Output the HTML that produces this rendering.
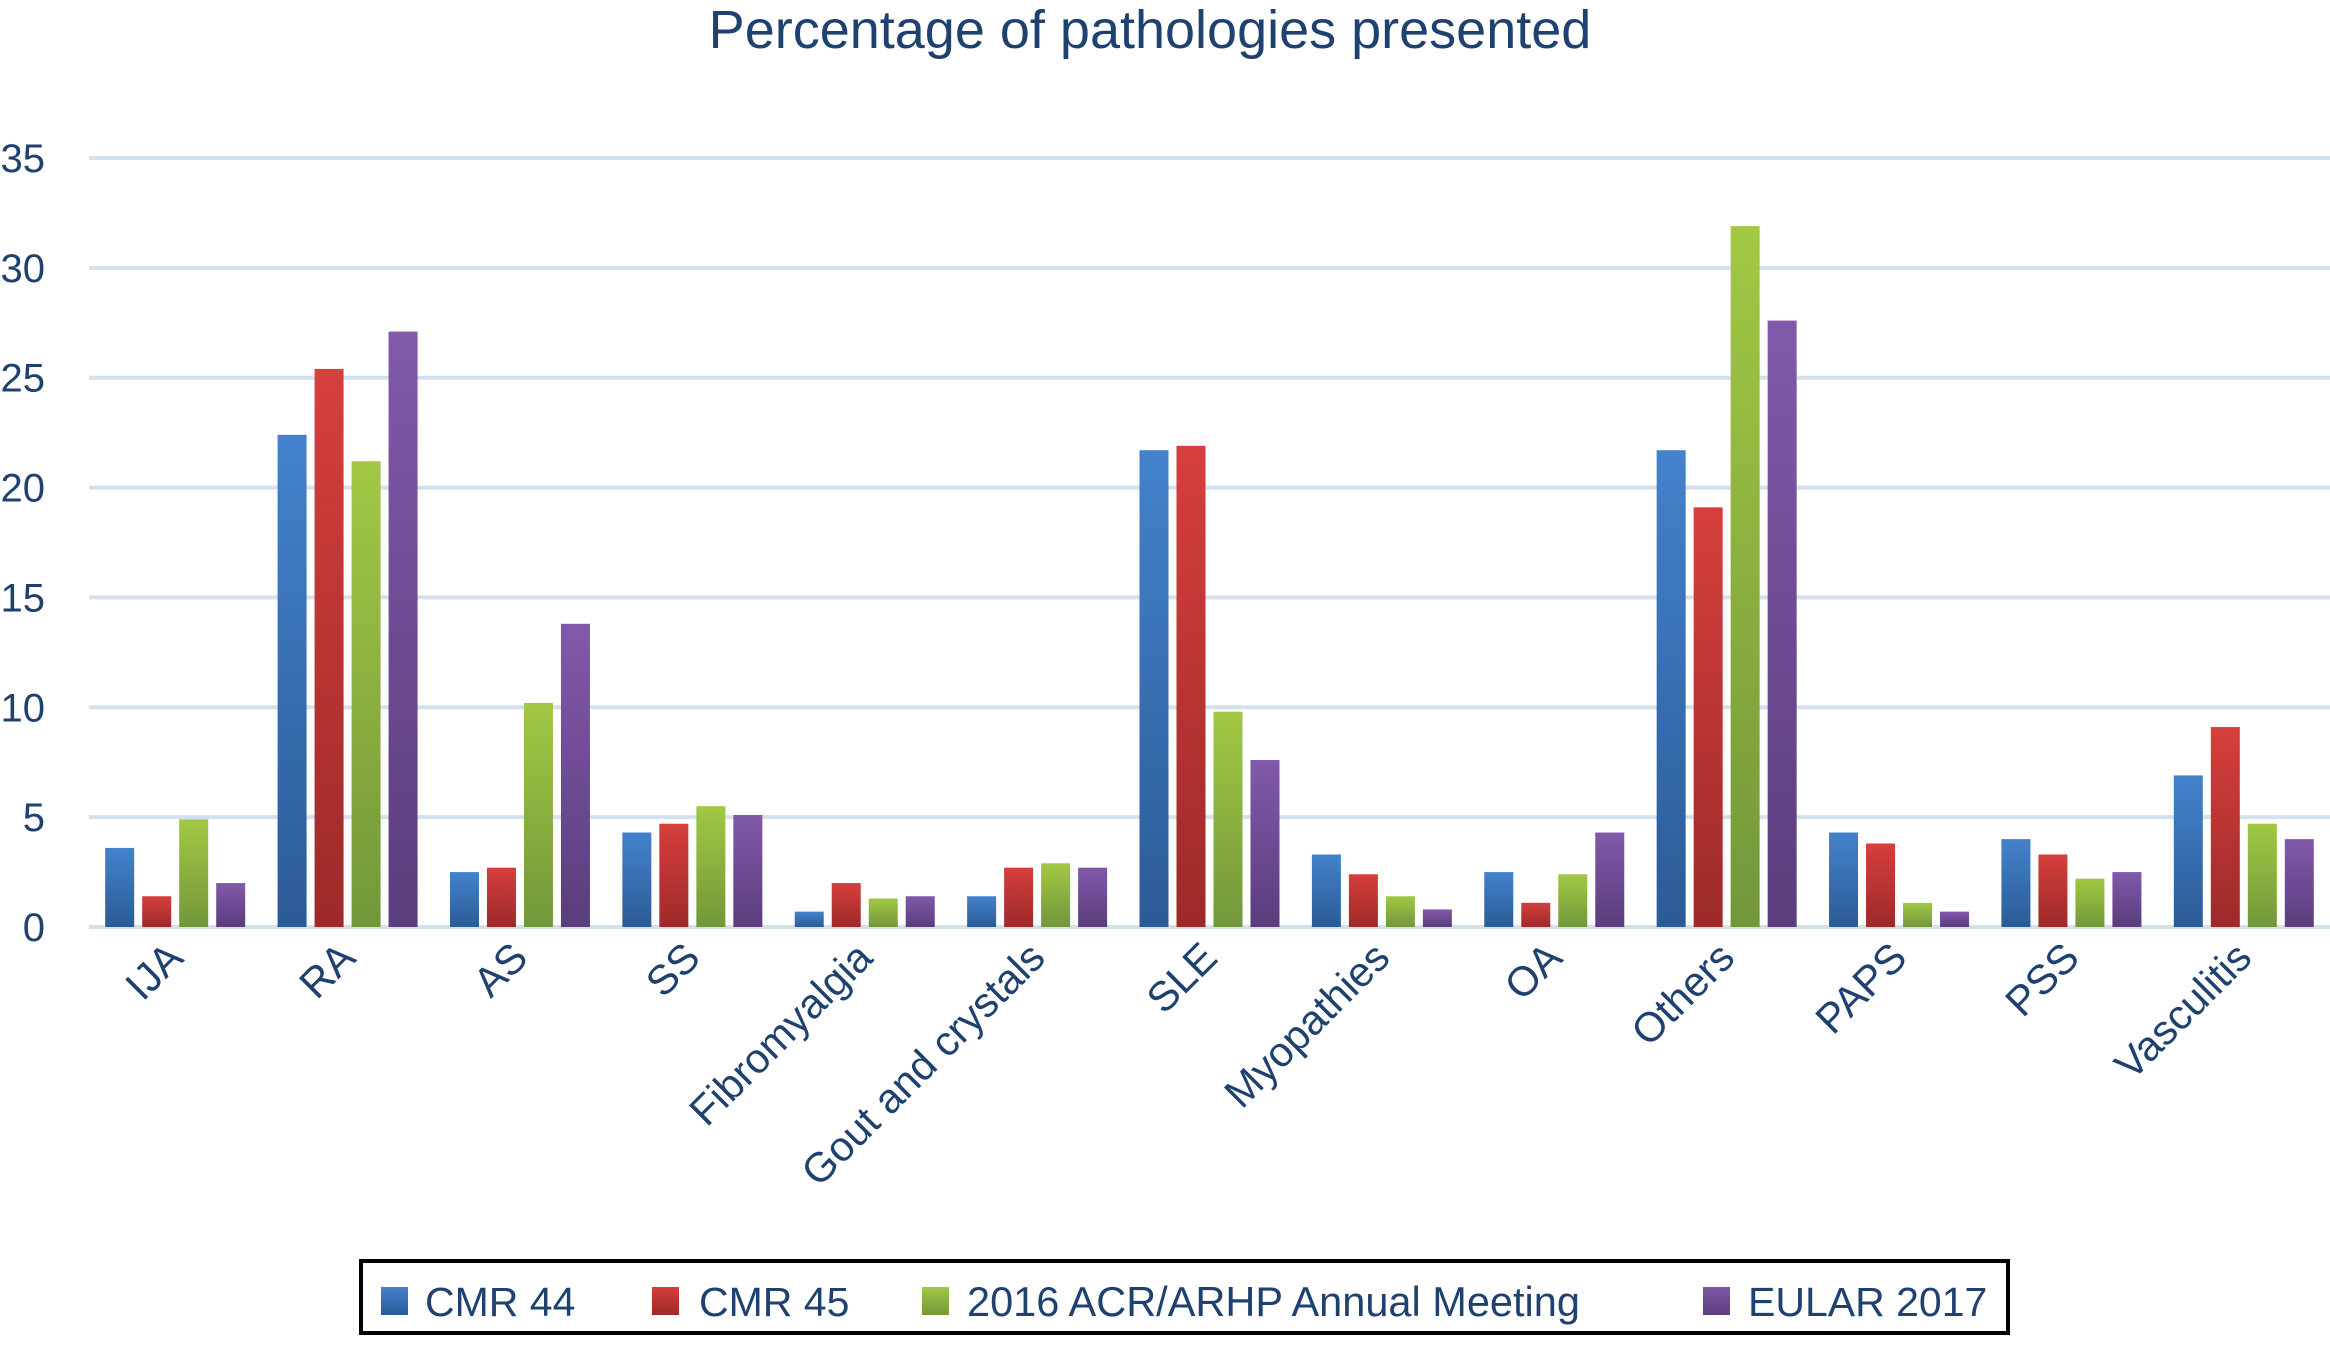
<!DOCTYPE html>
<html><head><meta charset="utf-8"><style>
html,body{margin:0;padding:0;background:#fff;}
svg{display:block;font-family:"Liberation Sans",sans-serif;}
</style></head><body>
<svg id="chart" width="2330" height="1372" viewBox="0 0 2330 1372" xmlns="http://www.w3.org/2000/svg">
<defs>
<linearGradient id="g0" x1="0" y1="0" x2="0" y2="1"><stop offset="0" stop-color="#4382cc"/><stop offset="1" stop-color="#2b5b96"/></linearGradient>
<linearGradient id="g1" x1="0" y1="0" x2="0" y2="1"><stop offset="0" stop-color="#d63f3c"/><stop offset="1" stop-color="#9c2a29"/></linearGradient>
<linearGradient id="g2" x1="0" y1="0" x2="0" y2="1"><stop offset="0" stop-color="#a2c844"/><stop offset="1" stop-color="#72973a"/></linearGradient>
<linearGradient id="g3" x1="0" y1="0" x2="0" y2="1"><stop offset="0" stop-color="#8159aa"/><stop offset="1" stop-color="#5a3d7c"/></linearGradient>
</defs>
<text x="1150" y="48" text-anchor="middle" font-size="54" fill="#1f4170">Percentage of pathologies presented</text>
<g id="grid"></g>
<g id="bars"></g>
<g id="xlabels"></g>
<g>
<rect x="361" y="1261" width="1647" height="72" fill="#fff" stroke="#000" stroke-width="4"/>
<rect x="381" y="1287" width="27" height="28" fill="url(#g0)"/>
<text x="425" y="1316" font-size="41" fill="#1f4170">CMR 44</text>
<rect x="652" y="1287" width="27" height="28" fill="url(#g1)"/>
<text x="699" y="1316" font-size="41" fill="#1f4170">CMR 45</text>
<rect x="922" y="1287" width="27" height="28" fill="url(#g2)"/>
<text x="967" y="1316" font-size="41.5" fill="#1f4170">2016 ACR/ARHP Annual Meeting</text>
<rect x="1703" y="1287" width="27" height="28" fill="url(#g3)"/>
<text x="1748" y="1316" font-size="41" fill="#1f4170">EULAR 2017</text>
</g>
</svg>
<script>
const categories = ["IJA","RA","AS","SS","Fibromyalgia","Gout and crystals","SLE","Myopathies","OA","Others","PAPS","PSS","Vasculitis"];
const cmr44 = [3.6,22.4,2.5,4.3,0.7,1.4,21.7,3.3,2.5,21.7,4.3,4.0,6.9];
const cmr45 = [1.4,25.4,2.7,4.7,2.0,2.7,21.9,2.4,1.1,19.1,3.8,3.3,9.1];
const acr2016 = [4.9,21.2,10.2,5.5,1.3,2.9,9.8,1.4,2.4,31.9,1.1,2.2,4.7];
const eular2017 = [2.0,27.1,13.8,5.1,1.4,2.7,7.6,0.8,4.3,27.6,0.7,2.5,4.0];
const yTicks = [0,5,10,15,20,25,30,35];
const seriesNames = ["cmr44","cmr45","acr2016","eular2017"];

const NS = "http://www.w3.org/2000/svg";
const plotL = 89, plotR = 2330, y0 = 927, y35 = 158;
const yScale = v => y0 - (y0 - y35) * v / 35;
const band = (plotR - plotL) / categories.length;
const xCenter = i => plotL + band * (i + 0.5);

const grid = document.getElementById('grid');
yTicks.forEach(t => {
  const l = document.createElementNS(NS, 'line');
  
  
  l.setAttribute('x1', plotL); l.setAttribute('x2', plotR);
  l.setAttribute('y1', yScale(t)); l.setAttribute('y2', yScale(t));
  l.setAttribute('stroke', '#d3e0ee'); l.setAttribute('stroke-width', '4');
  grid.appendChild(l);
  const tx = document.createElementNS(NS, 'text');
  
  
  tx.setAttribute('x', 45); tx.setAttribute('y', yScale(t) + 14);
  tx.setAttribute('text-anchor', 'end'); tx.setAttribute('font-size', '40');
  tx.setAttribute('fill', '#1f4170');
  tx.textContent = t;
  grid.appendChild(tx);
});

const bars = document.getElementById('bars');
const series = [cmr44, cmr45, acr2016, eular2017];
const bw = 29, step = 37;
series.forEach((s, si) => {
  s.forEach((v, i) => {
    const r = document.createElementNS(NS, 'rect');
    
    
    const x = xCenter(i) - 70 + si * step;
    r.setAttribute('x', x); r.setAttribute('width', bw);
    r.setAttribute('y', yScale(v)); r.setAttribute('height', y0 - yScale(v));
    r.setAttribute('fill', 'url(#g' + si + ')');
    bars.appendChild(r);
  });
});

const xl = document.getElementById('xlabels');
categories.forEach((c, i) => {
  const t = document.createElementNS(NS, 'text');
  
  
  const x = xCenter(i) + 10, y = 960;
  t.setAttribute('transform', 'translate(' + x + ',' + y + ') rotate(-45)');
  t.setAttribute('text-anchor', 'end'); t.setAttribute('font-size', '41.5');
  t.setAttribute('fill', '#1f4170');
  t.textContent = c;
  xl.appendChild(t);
});
</script>
</body></html>
